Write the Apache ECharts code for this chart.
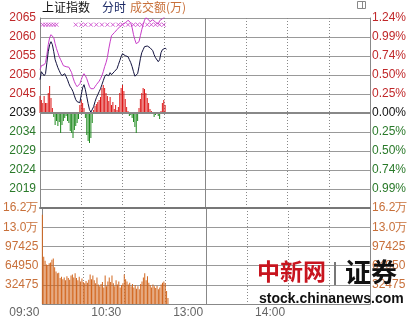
<!DOCTYPE html>
<html><head><meta charset="utf-8">
<script src="https://cdn.jsdelivr.net/npm/echarts@6/dist/echarts.min.js"></script>
<style>html,body{margin:0;padding:0;background:#fff}#c{width:412px;height:319px}</style>
</head><body><div id="c"></div>
<script>
const prevClose = 2039.7;
const priceTickLabels = ['', '2019', '2024', '2029', '2034', '2039', '2045', '2050', '2055', '2060', '2065'];
const pctTickLabels = ['', '0.99%', '0.74%', '0.50%', '0.25%', '0.00%', '0.25%', '0.50%', '0.74%', '0.99%', '1.24%'];
const volTickLabels = ['', '32475', '64950', '97425', '13.0万', '16.2万'];
const timeTickLabels = ['09:30', '10:30', '13:00', '14:00'];

// index price per minute (from 09:30)
const indexPrice = [2048.64, 2050.78, 2050.52, 2049.71, 2050.25, 2053.20, 2056.15, 2058.03, 2058.84, 2058.03,
 2056.15, 2054.01, 2052.93, 2051.86, 2051.05, 2050.25, 2049.71, 2049.98, 2050.25, 2049.44,
 2048.64, 2047.56, 2046.76, 2046.22, 2045.42, 2044.34, 2043.27, 2042.73, 2042.20, 2042.46,
 2044.61, 2046.49, 2047.30, 2045.95, 2044.07, 2042.20, 2040.59, 2039.91, 2040.32, 2041.39,
 2042.73, 2043.81, 2044.61, 2045.42, 2046.22, 2047.30, 2048.37, 2049.44, 2049.98, 2050.25,
 2049.71, 2050.52, 2049.98, 2050.25, 2050.78, 2051.05, 2051.59, 2052.66, 2053.74, 2054.81,
 2055.62, 2055.35, 2055.08, 2055.48, 2054.81, 2054.01, 2053.20, 2052.13, 2050.78, 2049.58,
 2049.58, 2050.25, 2052.13, 2054.27, 2055.88, 2056.69, 2057.50, 2057.63, 2057.68, 2057.36,
 2057.23, 2057.36, 2056.42, 2055.35, 2054.54, 2054.01, 2053.47, 2054.01, 2055.88, 2056.69,
 2056.96, 2057.09, 2056.82];

// second (purple) line
const leadPrice = [2051.32, 2052.40, 2052.93, 2052.66, 2053.20, 2055.35, 2058.03, 2059.91, 2060.72, 2060.98,
 2059.91, 2058.30, 2056.96, 2055.88, 2054.81, 2054.01, 2053.20, 2052.40, 2052.13, 2052.13,
 2052.13, 2051.99, 2051.59, 2050.52, 2049.17, 2048.10, 2047.30, 2046.76, 2046.89, 2047.56,
 2048.64, 2049.71, 2050.25, 2049.71, 2048.91, 2047.83, 2046.76, 2046.22, 2045.95, 2046.22,
 2046.76, 2047.30, 2047.83, 2048.24, 2048.91, 2049.71, 2050.78, 2052.13, 2053.20, 2054.60,
 2056.90, 2058.80, 2060.45, 2060.98, 2061.25, 2061.52, 2062.06, 2062.59, 2062.86, 2063.13,
 2063.53, 2063.80, 2063.85, 2064.20, 2064.60, 2064.88, 2063.90, 2062.59, 2060.72, 2059.37,
 2058.30, 2057.90, 2058.84, 2060.45, 2062.06, 2063.40, 2064.60, 2065.28, 2065.41, 2064.74,
 2064.20, 2064.61, 2064.74, 2064.47, 2064.07, 2063.67, 2063.53, 2064.47, 2064.74, 2065.01,
 2065.28, 2065.55, 2065.82];

// buy/sell strength bars (red up, green down)
const strength = [17, 13, 10, 17, 10, 10, 20, 27, 15, 5,
 -4, -12, -8, -13, -9, -20, -12, -8, -5, -3,
 -8, -10, -18, -20, -25, -17, -13, -10, -6, 8,
 13, 10, 5, -5, -22, -28, -30, -25, -10, 3,
 7, 9, 11, 13, 16, 25, 28, 25, 20, 17,
 12, 16, 8, 11, 4, 8, 3, 6, 20, 25,
 28, 22, 14, 6, 2, -3, -2, -5, -9, -14,
 -20, -8, 5, 14, 20, 25, 24, 20, 15, 10,
 4, 2, 1, -4, -2, -1, -3, -6, 2, 10,
 13, 8, 0];

// turnover per minute (万)
const turnover = [151000, 80000, 73000, 67000, 66000, 69000, 70000, 75000, 77000, 62000,
 55000, 52000, 53000, 44000, 46000, 42000, 45000, 40000, 47000, 44000,
 41000, 48000, 50000, 45000, 52000, 44000, 40000, 46000, 38000, 43000,
 37000, 35000, 39000, 36000, 41000, 50000, 42000, 48000, 40000, 35000,
 45000, 33000, 30000, 34000, 37000, 28000, 48000, 30000, 38000, 45000,
 37000, 48000, 35000, 30000, 40000, 33000, 38000, 28000, 32000, 35000,
 50000, 42000, 38000, 33000, 36000, 30000, 34000, 28000, 32000, 26000,
 30000, 25000, 34000, 38000, 45000, 52000, 40000, 47000, 36000, 32000,
 28000, 33000, 30000, 27000, 31000, 25000, 28000, 33000, 36000, 38000,
 35000, 22000, 10000];

// minutes with x markers
const markerMinutes = [2, 4, 6, 8, 10, 12, 26, 30, 33, 37, 41, 45, 49, 53, 57, 60, 64, 68, 71, 74, 78, 81, 84, 87, 90];
const markerPrice = 2063.4;

function hhmm(t){const h=Math.floor(t/60),m=t%60;return (h<10?'0':'')+h+':'+(m<10?'0':'')+m;}
const times=[];
for(let m=0;m<120;m++) times.push(hhmm(570+m));
for(let m=0;m<=120;m++) times.push(hhmm(780+m));

const pct = v => (v - prevClose) / prevClose * 100;
const RED='#c0282a', GREEN='#2a7a2a', VOL='#c8703a';
const numFont='"Liberation Sans", Arial, sans-serif';
const cjk='"Noto Sans CJK SC", "Liberation Sans", sans-serif';

const chart = echarts.init(document.getElementById('c'), null, {renderer:'canvas'});
const dotted = i => i % 30 === 0 && i > 0 && i < 240 && i !== 120;
const gridLine = {color:'#999', width:1};
chart.setOption({
  animation:false,
  backgroundColor:'#fff',
  title:[
    {text:'上证指数', left:42, top:1, padding:0, textStyle:{fontSize:12, fontWeight:'normal', color:'#111', fontFamily:cjk}},
    {text:'分时', left:102, top:1, padding:0, textStyle:{fontSize:12, fontWeight:'normal', color:'#1c2a66', fontFamily:cjk}},
    {text:'成交额(万)', left:130, top:1, padding:0, textStyle:{fontSize:12, fontWeight:'normal', color:VOL, fontFamily:cjk}}
  ],
  grid:[{left:40, right:42, top:18, height:190}, {left:40, right:42, top:208, height:96}],
  xAxis:[
    {gridIndex:0, type:'category', data:times, boundaryGap:false,
     axisLine:{show:true, onZero:false, lineStyle:{color:'#777', width:2}}, axisTick:{show:false}, axisLabel:{show:false},
     splitLine:{show:true, interval:dotted, lineStyle:{color:'#888', type:[1,2]}}},
    {gridIndex:0, type:'category', data:times, boundaryGap:false, position:'bottom',
     axisLine:{show:false}, axisTick:{show:false}, axisLabel:{show:false},
     splitLine:{show:true, interval:(i)=>i===120, lineStyle:{color:'#888', width:1}}},
    {gridIndex:1, type:'category', data:times, boundaryGap:false, position:'bottom',
     axisLine:{show:true, onZero:false, lineStyle:{color:'#888', width:1}}, axisTick:{show:false},
     axisLabel:{show:true, interval:(i,v)=>timeTickLabels.indexOf(v)>=0, align:'right', padding:[0,3,0,0], margin:3,
                fontSize:12, color:'#666', fontFamily:numFont, hideOverlap:false},
     splitLine:{show:true, interval:dotted, lineStyle:{color:'#888', type:[1,2]}}},
    {gridIndex:1, type:'category', data:times, boundaryGap:false, position:'bottom',
     axisLine:{show:false}, axisTick:{show:false}, axisLabel:{show:false},
     splitLine:{show:true, interval:(i)=>i===120, lineStyle:{color:'#888', width:1}}}
  ],
  yAxis:[
    {gridIndex:0, type:'value', min:-1.25, max:1.25, interval:0.25, position:'left',
     axisLine:{show:true, lineStyle:{color:'#888'}}, axisTick:{show:false}, splitLine:{show:true, lineStyle:gridLine},
     axisLabel:{margin:4, fontSize:12, fontFamily:numFont,
       formatter:(v)=>priceTickLabels[Math.round((v+1.25)/0.25)] || '',
       color:(v)=>{const k=Math.round((parseFloat(v)+1.25)/0.25);return k<5?GREEN:(k===5?'#111':RED);}}},
    {gridIndex:0, type:'value', min:-1.25, max:1.25, interval:0.25, position:'right',
     axisLine:{show:true, lineStyle:{color:'#888'}}, axisTick:{show:false}, splitLine:{show:false},
     axisLabel:{margin:2, fontSize:12, fontFamily:numFont,
       formatter:(v)=>pctTickLabels[Math.round((v+1.25)/0.25)] || '',
       color:(v)=>{const k=Math.round((parseFloat(v)+1.25)/0.25);return k<5?GREEN:(k===5?'#111':RED);}}},
    {gridIndex:0, type:'value', min:-95, max:95, show:false},
    {gridIndex:1, type:'value', min:0, max:162375, interval:32475, position:'left',
     axisLine:{show:true, lineStyle:{color:'#888'}}, axisTick:{show:false}, splitLine:{show:true, lineStyle:gridLine},
     axisLabel:{margin:4, fontSize:12, fontFamily:numFont, color:VOL,
       formatter:(v)=>volTickLabels[Math.round(v/32475)] || ''}},
    {gridIndex:1, type:'value', min:0, max:162375, interval:32475, position:'right',
     axisLine:{show:true, lineStyle:{color:'#888'}}, axisTick:{show:false}, splitLine:{show:false},
     axisLabel:{margin:2, fontSize:12, fontFamily:numFont, color:VOL,
       formatter:(v)=>volTickLabels[Math.round(v/32475)] || ''}}
  ],
  series:[
    {type:'bar', xAxisIndex:0, yAxisIndex:2, barWidth:1, silent:true,
     data:strength.map(v=>({value:v, itemStyle:{color:v>=0?'#dd1a1a':'#1f8a1f'}})),
     markLine:{silent:true, symbol:'none', label:{show:false}, lineStyle:{color:'#888', width:2, type:'solid'}, data:[{yAxis:0}]}},
    {type:'line', xAxisIndex:0, yAxisIndex:0, data:leadPrice.map(pct), symbol:'none', silent:true,
     lineStyle:{color:'#c83cc8', width:1}},
    {type:'line', xAxisIndex:0, yAxisIndex:0, data:indexPrice.map(pct), symbol:'none', silent:true,
     lineStyle:{color:'#141440', width:1}},
    {type:'scatter', xAxisIndex:0, yAxisIndex:0, silent:true,
     data:markerMinutes.map(i=>[i, pct(markerPrice)]),
     symbol:'path://M0 0L10 10M10 0L0 10', symbolSize:4,
     itemStyle:{color:'rgba(0,0,0,0)', borderColor:'#c83cc8', borderWidth:1}},
    {type:'bar', xAxisIndex:2, yAxisIndex:3, barWidth:1, silent:true, data:turnover, itemStyle:{color:'#d2661e'}}
  ],
  graphic:[
    {type:'rect', shape:{x:357.5, y:1.5, width:8, height:7}, style:{fill:'#fff', stroke:'#888', lineWidth:1}},
    {type:'line', shape:{x1:362.5, y1:1.5, x2:362.5, y2:8.5}, style:{stroke:'#888', lineWidth:1}},
    {type:'text', left:257, top:260, z:100, style:{text:'中新网', font:'bold 23px '+cjk, fill:'#c8141e'}},
    {type:'rect', z:100, shape:{x:334, y:262, width:2, height:23}, style:{fill:'#777'}},
    {type:'text', left:345, top:259, z:100, style:{text:'证券', font:'bold 26px '+cjk, fill:'#111'}},
    {type:'text', left:259, top:292, z:100, style:{text:'stock.chinanews.com', font:'bold 14px '+numFont, fill:'#111'}}
  ]
});
</script></body></html>
